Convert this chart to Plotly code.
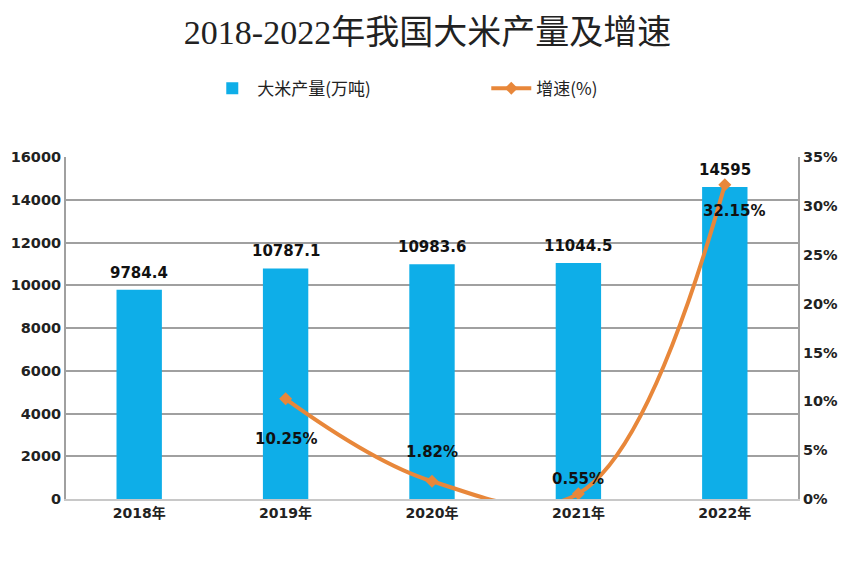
import plotly.graph_objects as go

years = ["2018年", "2019年", "2020年", "2021年", "2022年"]
output = [9784.4, 10787.1, 10983.6, 11044.5, 14595]
output_labels = ["9784.4", "10787.1", "10983.6", "11044.5", "14595"]
growth_years = ["2019年", "2020年", "2021年", "2022年"]
growth = [10.25, 1.82, 0.55, 32.15]
growth_labels = ["10.25%", "1.82%", "0.55%", "32.15%"]
growth_label_yshift = [-40, 29, 15, -26]
growth_label_xshift = [0, 0, 0, 9]

left_ticks = list(range(0, 16001, 2000))
right_ticks = list(range(0, 36, 5))

FONT = "DejaVu Sans, Noto Sans CJK SC, sans-serif"
LEG_FONT = "Noto Sans CJK SC, sans-serif"
BAR_COLOR = "#0EAEE8"
LINE_COLOR = "#E8873A"

fig = go.Figure()
fig.add_trace(go.Bar(
    x=years, y=output, name="大米产量(万吨)",
    marker=dict(color=BAR_COLOR, line=dict(width=0)),
))
fig.add_trace(go.Scatter(
    x=growth_years, y=growth, name="增速(%)", yaxis="y2",
    mode="lines+markers",
    line=dict(color=LINE_COLOR, width=4, shape="spline", smoothing=1.1),
    marker=dict(symbol="diamond", size=10, color=LINE_COLOR),
))

annotations = []
for xv, yv, lab in zip(years, output, output_labels):
    annotations.append(dict(
        x=xv, y=yv, xref="x", yref="y", text=lab, showarrow=False,
        yshift=17, font=dict(family=FONT, size=15, color="#111", weight="bold"),
    ))
for xv, yv, lab, ys, xs in zip(growth_years, growth, growth_labels, growth_label_yshift, growth_label_xshift):
    annotations.append(dict(
        x=xv, y=yv, xref="x", yref="y2", text=lab, showarrow=False,
        yshift=ys, xshift=xs,
        font=dict(family=FONT, size=15, color="#111", weight="bold"),
    ))

fig.update_layout(
    width=839, height=546,
    paper_bgcolor="white", plot_bgcolor="white",
    margin=dict(l=58, r=49, t=149, b=55),
    title=dict(text="2018-2022年我国大米产量及增速", x=0.5, xanchor="center",
               y=1 - 24 / 546, yanchor="middle",
               font=dict(family="Liberation Serif, Noto Sans CJK SC, serif", size=34, color="#222")),
    legend=dict(orientation="h", x=0.193, xanchor="left", y=1.2, yanchor="middle",
                font=dict(family=LEG_FONT, size=17, color="#222"),
                itemwidth=40, entrywidth=224, entrywidthmode="pixels"),
    bargap=0.69,
    showlegend=True,
    annotations=annotations,
    xaxis=dict(
        type="category", showline=True, linecolor="#C8C8C8", linewidth=2,
        ticks="", tickfont=dict(family=FONT, size=14, color="#222", weight="bold"),
        showgrid=False, mirror=False, automargin=False,
    ),
    yaxis=dict(
        range=[0, 16000], tickvals=left_ticks, ticktext=[str(v) for v in left_ticks],
        showline=True, linecolor="#A0A0A0", linewidth=2,
        gridcolor="#A0A0A0", gridwidth=1.5, zeroline=False, ticks="",
        tickfont=dict(family=FONT, size=14.5, color="#222", weight="bold"),
        mirror=False, automargin=False,
    ),
    yaxis2=dict(
        range=[0, 35], tickvals=right_ticks, ticktext=[f"{v}%" for v in right_ticks],
        overlaying="y", side="right", showline=True, linecolor="#A0A0A0", linewidth=2,
        showgrid=False, zeroline=False, ticks="", automargin=False,
        tickfont=dict(family=FONT, size=14.5, color="#222", weight="bold"),
    ),
)

fig.write_html("out.html")
